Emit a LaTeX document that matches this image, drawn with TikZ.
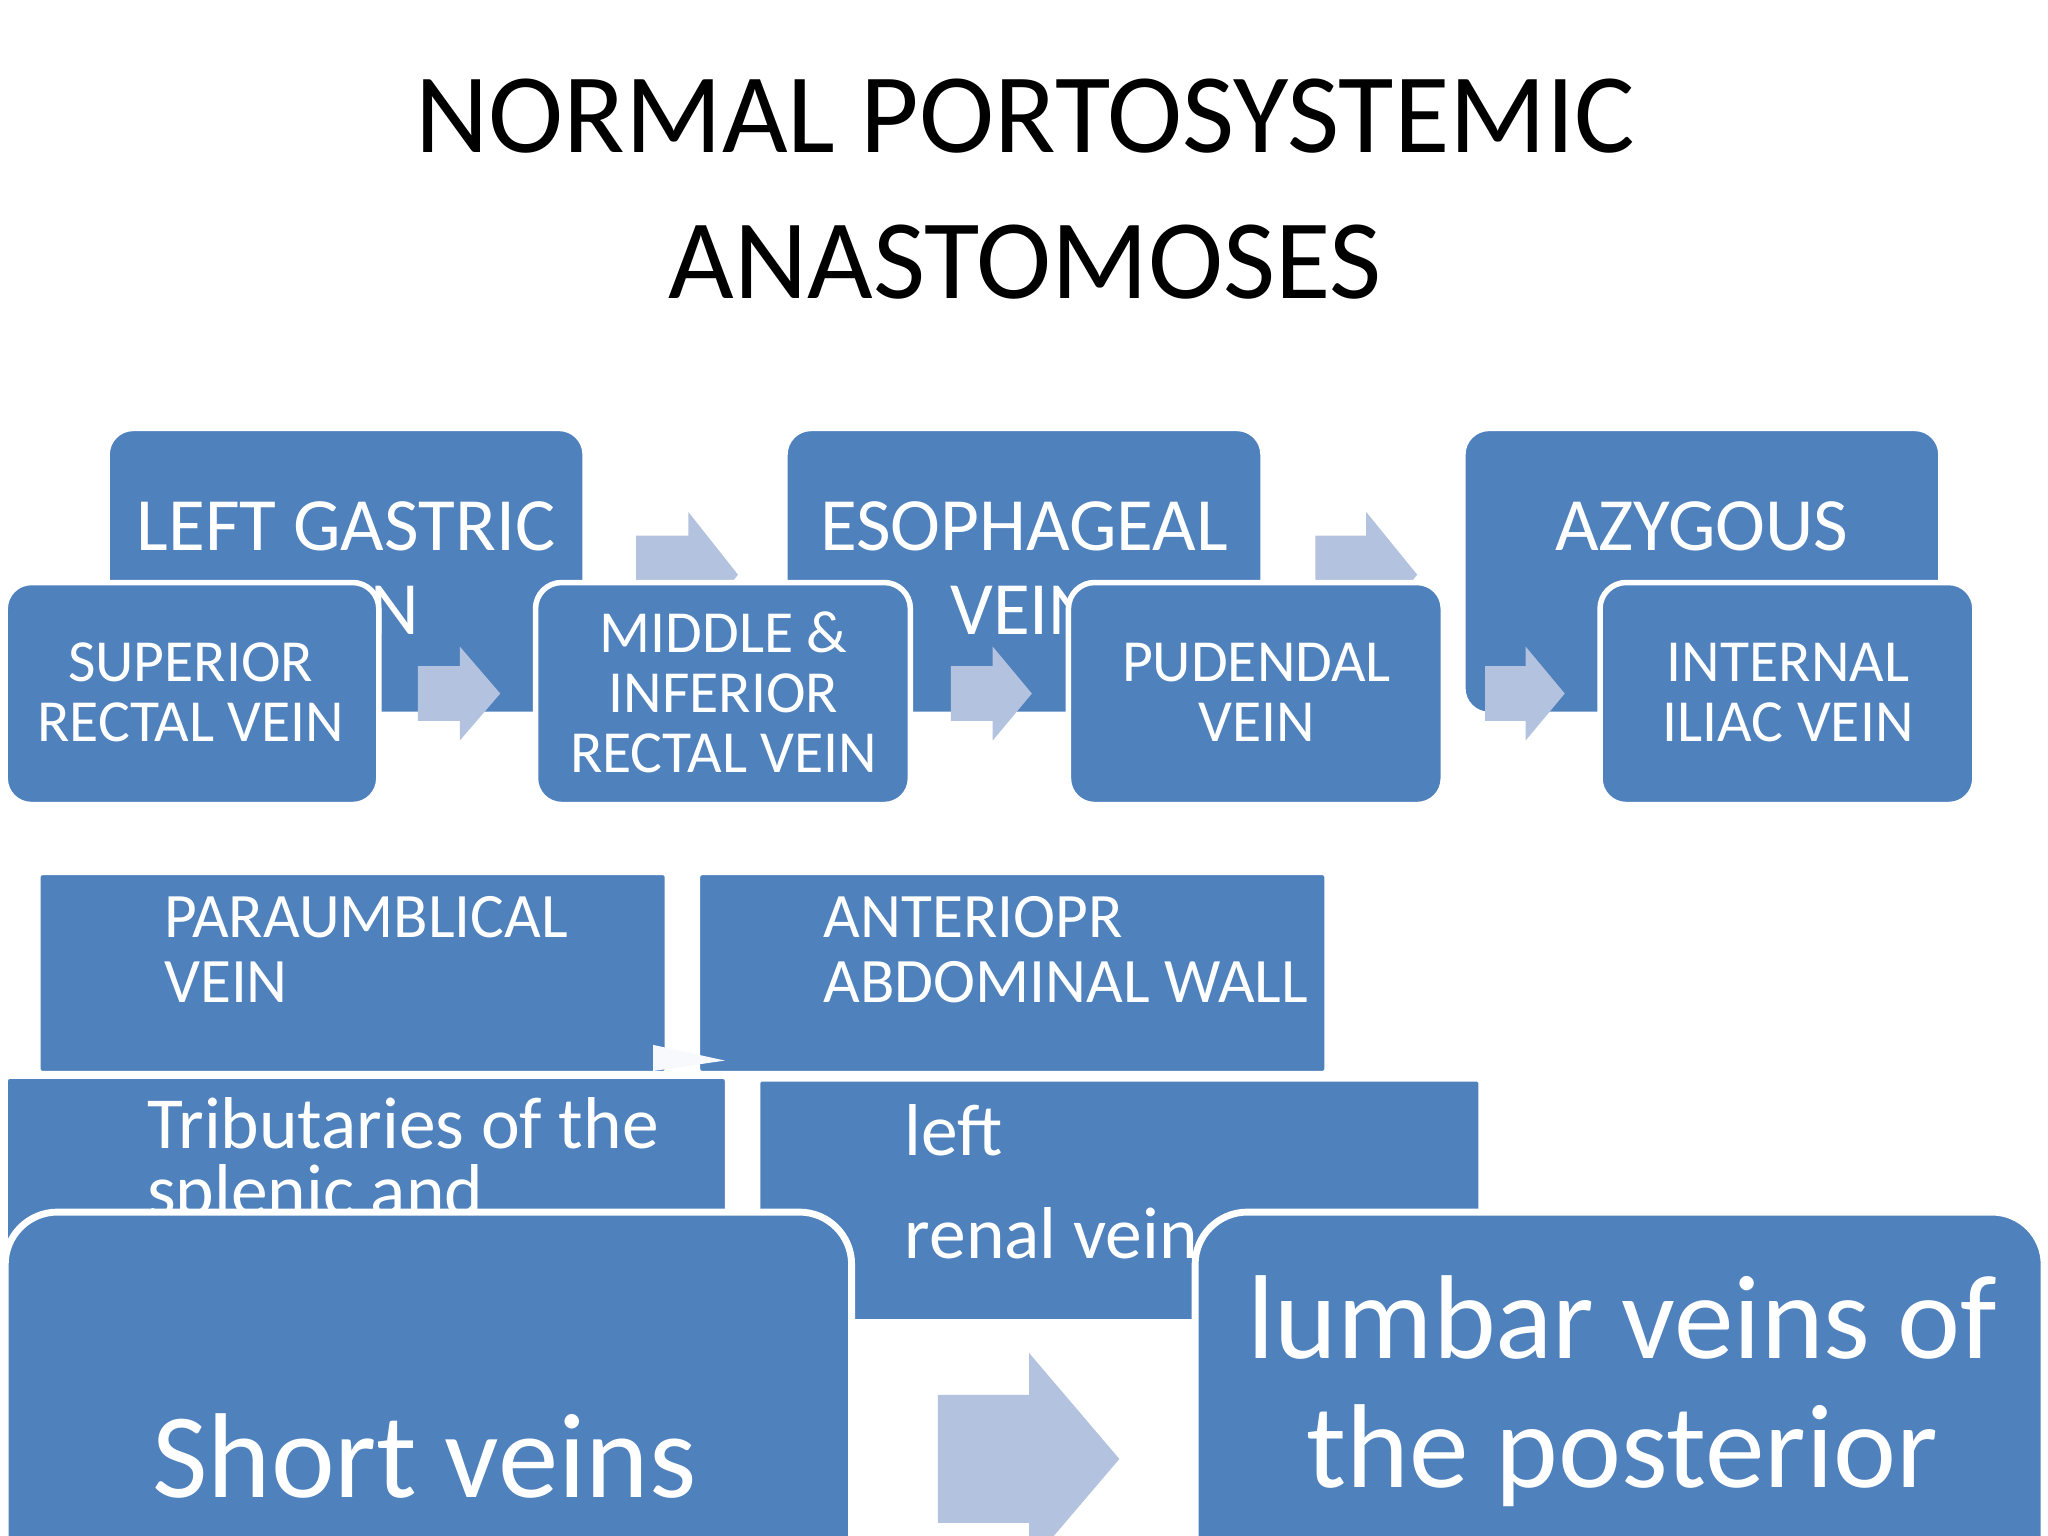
\documentclass[tikz,border=0pt]{standalone}
\usepackage{fontspec}
\setmainfont{Carlito}
\definecolor{bx}{HTML}{4F81BD}
\definecolor{ar}{HTML}{B3C2DE}
\tikzset{
 box/.style={fill=bx,draw=white,line width=1.2pt,rounded corners=0.2cm},
 sq/.style={fill=bx,draw=white,line width=1.2pt,rounded corners=0.03cm},
 tx/.style={text=white,align=center,inner sep=0pt},
 arw/.style={fill=ar,draw=none}
}
\newcommand{\rarr}[6]{\fill[arw] (#1/100,-#4/100+#5/100) -- (#2/100,-#4/100+#5/100) -- (#2/100,-#4/100+#6/100) -- (#3/100,-#4/100) -- (#2/100,-#4/100-#6/100) -- (#2/100,-#4/100-#5/100) -- (#1/100,-#4/100-#5/100) -- cycle;}
\newcommand{\bxr}[5][box]{\draw[#1] (#2/100,-#3/100) rectangle (#4/100,-#5/100);}
\begin{document}
\begin{tikzpicture}
\clip (0,0) rectangle (15.68,-11.76);
\fill[white] (0,0) rectangle (15.68,-11.76);
\node[inner sep=0pt,align=center,font=\fontsize{24.7}{29}\selectfont] (title) at (7.85,-1.45) {NORMAL PORTOSYSTEMIC\\[0.1cm]ANASTOMOSES};
% row 1
\bxr{82}{328}{448}{547}
\node[tx,font=\fontsize{16.4}{17}\selectfont] (lg) at (2.65,-4.35) {LEFT GASTRIC\\[0.05cm]VEIN};
\rarr{487}{527}{565}{440}{30}{48}
\bxr{601}{328}{967}{547}
\node[tx,font=\fontsize{16.4}{17}\selectfont] (es) at (7.84,-4.35) {ESOPHAGEAL\\[0.05cm]VEIN};
\rarr{1007}{1046}{1085}{440}{30}{48}
\bxr{1120}{328}{1486}{547}
\node[tx,font=\fontsize{16.4}{17}\selectfont] (az) at (13.03,-4.35) {AZYGOUS\\[0.05cm]VEIN};
\bxr{4}{446}{290}{616}
\node[tx,font=\fontsize{13}{13}\selectfont] (sr) at (1.46,-5.3) {SUPERIOR\\RECTAL VEIN};
\rarr{320}{352}{383}{531}{21}{36}
\bxr{410}{446}{697}{616}
\node[tx,font=\fontsize{13}{13}\selectfont] (mi) at (5.54,-5.3) {MIDDLE \&\\INFERIOR\\RECTAL VEIN};
\rarr{728}{760}{790}{531}{21}{36}
\bxr{818}{446}{1105}{616}
\node[tx,font=\fontsize{13}{13}\selectfont] (pu) at (9.62,-5.3) {PUDENDAL\\VEIN};
\rarr{1137}{1168}{1198}{531}{21}{36}
\bxr{1225}{446}{1512}{616}
\node[tx,font=\fontsize{13}{13}\selectfont] (ii) at (13.69,-5.3) {INTERNAL\\ILIAC VEIN};
% row 2
\bxr[sq]{29}{668}{511}{822}
\node[tx,align=left,anchor=west,font=\fontsize{13.8}{14.3}\selectfont] (pa) at (1.25,-7.27) {PARAUMBLICAL\\VEIN};
\bxr[sq]{534}{668}{1016}{822}
\node[tx,align=left,anchor=west,font=\fontsize{13.8}{14.3}\selectfont] (an) at (6.3,-7.27) {ANTERIOPR\\ABDOMINAL WALL};
\fill[white!90!ar] (5.0,-8.0) -- (5.55,-8.12) -- (5.0,-8.2) -- cycle;
\bxr[sq]{4}{824}{557}{1100}
\node[tx,align=left,anchor=west,font=\fontsize{16}{14.5}\selectfont] (tr) at (1.12,-8.9) {Tributaries of the\\splenic and};
\bxr[sq]{580}{826}{1134}{1012}
\node[tx,align=left,anchor=west,font=\fontsize{16}{22.5}\selectfont] (lr) at (6.92,-9.05) {left\\renal vein};
% row 3
\draw[fill=bx,draw=white,line width=1.5pt,rounded corners=0.4cm] (0.04,-9.28) rectangle (6.52,-12.3);
\node[tx,font=\fontsize{26.3}{30}\selectfont] (sv) at (3.25,-11.15) {Short veins};
\rarr{718}{788}{857}{1117}{49}{81}
\draw[fill=bx,draw=white,line width=1.5pt,rounded corners=0.4cm] (9.15,-9.28) rectangle (15.65,-12.3);
\node[tx,font=\fontsize{26}{28}\selectfont] (lu) at (12.42,-10.65) {lumbar veins of\\the posterior};
\end{tikzpicture}
\end{document}
